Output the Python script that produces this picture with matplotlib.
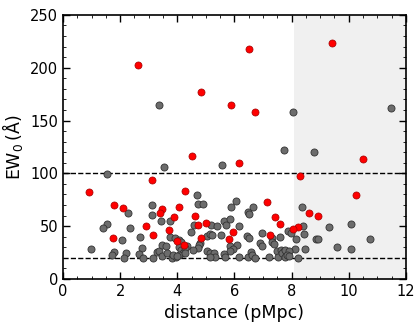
import matplotlib
matplotlib.use('Agg')
import matplotlib.pyplot as plt
from matplotlib.ticker import MultipleLocator

# gray points: distance (pMpc), EW0 (A)
gray_x = [3.35, 8.05, 11.48, 7.74, 8.78, 5.55, 3.55, 1.52,
          4.69, 4.71, 4.90, 6.06, 5.88, 6.48, 6.52, 6.66, 8.36, 2.27, 3.11, 3.11,
          3.42, 3.75, 1.54, 1.41, 2.33, 4.58, 5.19, 5.40, 5.62, 5.69, 5.84, 6.17,
          7.86, 8.40, 9.32, 10.08, 7.98, 8.44, 4.47, 5.05, 5.13, 5.20, 5.54, 6.44,
          6.50, 6.97, 7.32, 7.59, 8.14, 8.86, 8.92, 10.75, 2.05, 2.68, 3.74, 3.93,
          4.07, 4.13, 4.06, 4.35, 4.79, 4.77, 5.85, 6.10, 6.89, 6.97, 7.32, 7.38,
          9.58,
          0.96, 1.77, 1.73, 2.22, 2.13, 2.76, 2.65, 2.81, 3.14, 3.28, 3.36, 3.45,
          3.48, 3.60, 3.63, 3.81, 3.95, 4.12, 4.27, 4.19, 4.05, 4.27, 4.73, 4.56,
          5.96, 5.83, 7.50, 7.63, 7.73, 5.05, 5.13, 5.28, 5.32, 5.15, 5.64, 5.66,
          6.16, 6.46, 6.58, 6.60, 6.71, 7.22, 7.51, 7.65, 7.77, 8.47, 10.09, 8.11,
          8.22, 7.78, 7.92, 7.83, 7.92, 3.86, 4.00]
gray_y = [165, 158, 162, 122.5, 120, 107.6, 105.7, 99.4,
          79, 70.7, 70.7, 74.2, 68.5, 63.2, 61.3, 67.9, 68.5, 62.2, 70.1, 60.9,
          54.9, 54.9, 52.4, 48.6, 48.3, 51.4, 51.1, 50.5, 54.6, 50.8, 56.5, 50.5,
          45.2, 50.5, 49.2, 51.8, 43.6, 42.6, 44.2, 40.7, 42.3, 42.0, 42.0, 41.0,
          39.1, 43.6, 39.1, 39.5, 37.6, 38.2, 38.2, 37.9, 37.2, 39.5, 39.8, 38.8,
          36.9, 34.7, 30.6, 31.3, 34.4, 31.9, 30.9, 31.9, 33.8, 31.5, 35.0, 32.8,
          30.0,
          28.1, 25.9, 22.4, 24.6, 20.2, 29.6, 23.4, 20.2, 19.6, 25.2, 26.8, 21.8,
          31.9, 30.9, 24.9, 20.2, 21.1, 27.8, 29.0, 24.1, 22.7, 24.3, 29.0, 27.5,
          28.4, 26.5, 26.2, 27.5, 26.8, 26.5, 24.3, 24.3, 20.5, 21.1, 24.0, 21.1,
          21.1, 21.1, 25.9, 22.4, 19.9, 20.5, 20.5, 24.6, 21.1, 28.4, 28.1, 28.1,
          19.6, 27.5, 26.8, 23.0, 21.8, 22.3, 21.8]

# red points
red_x = [0.91, 1.77, 2.11, 3.13, 2.61, 4.83, 6.50, 9.40, 5.87, 6.72,
         4.50, 10.49, 6.17, 8.29, 4.27, 10.24, 7.13, 4.07, 3.46, 3.39,
         4.63, 3.88, 7.43, 8.61, 8.91, 5.00, 2.89, 4.72, 7.59, 3.71,
         8.22, 8.04, 5.94, 3.14, 7.23, 4.84, 1.76, 5.82, 3.98, 4.23]
red_y = [82, 70, 67.6, 94, 203, 177, 218, 223, 164.5, 158,
         116, 114, 109.5, 97, 83, 79.5, 73, 68, 66.6, 62.8,
         60, 58.4, 59, 62, 59.3, 53, 50.5, 50.8, 51.8, 46.1,
         49.6, 47.3, 44.2, 41.7, 41.7, 39.1, 38.5, 37.6, 35.7, 32.2]

shade_start = 8.08
ew_lines = [100, 20]

fig = plt.figure(figsize=(4.15, 3.32), dpi=100)
ax = fig.add_axes([0.152, 0.160, 0.826, 0.795])

ax.axvspan(shade_start, 12, color='#f0f0f0', zorder=0, lw=0)
for v in ew_lines:
    ax.axhline(v, color='black', ls='--', lw=1, zorder=1)

ax.scatter(gray_x, gray_y, s=26, c='#6c6c6c', edgecolors='#333333', linewidths=0.6, zorder=2)
ax.scatter(red_x, red_y, s=26, c='#ff0000', edgecolors='#a00000', linewidths=0.5, zorder=3)

ax.set_xlim(0, 12)
ax.set_ylim(0, 250)
ax.xaxis.set_major_locator(MultipleLocator(2))
ax.xaxis.set_minor_locator(MultipleLocator(0.5))
ax.yaxis.set_major_locator(MultipleLocator(50))
ax.yaxis.set_minor_locator(MultipleLocator(10))
ax.tick_params(which='both', direction='in', top=True, right=True, labelsize=10.5)
ax.tick_params(which='major', length=5, width=1)
ax.tick_params(which='minor', length=2.5, width=0.6)
for s in ax.spines.values():
    s.set_linewidth(1.2)

ax.set_xlabel('distance (pMpc)', fontsize=12.5)
ax.set_ylabel('EW$_0\\,$(Å)', fontsize=12.5)

fig.savefig('out.png', dpi=100)
